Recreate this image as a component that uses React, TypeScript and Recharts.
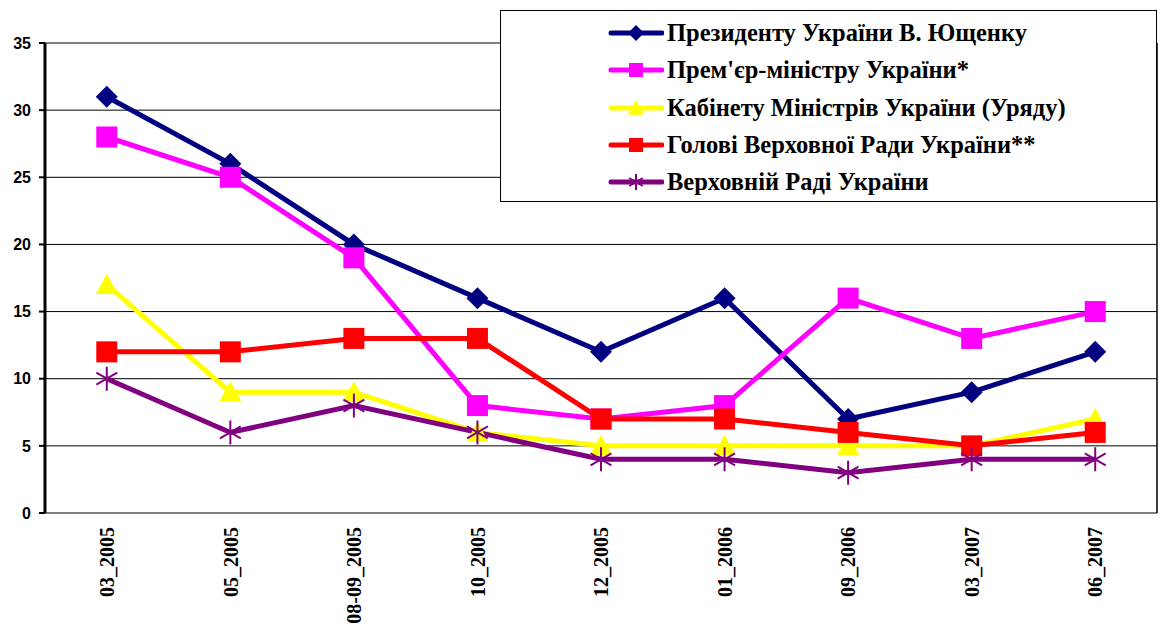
import React from 'react';
import { LineChart, Line, XAxis, YAxis, CartesianGrid, ReferenceLine } from 'recharts';

const categories = ['03_2005', '05_2005', '08-09_2005', '10_2005', '12_2005', '01_2006', '09_2006', '03_2007', '06_2007'];
const president = [31, 26, 20, 16, 12, 16, 7, 9, 12];
const premier = [28, 25, 19, 8, 7, 8, 16, 13, 15];
const cabinet = [17, 9, 9, 6, 5, 5, 5, 5, 7];
const speaker = [12, 12, 13, 13, 7, 7, 6, 5, 6];
const rada = [10, 6, 8, 6, 4, 4, 3, 4, 4];
const yTicks = [0, 5, 10, 15, 20, 25, 30, 35];
const seriesNames = [
  'Президенту України В. Ющенку',
  "Прем'єр-міністру України*",
  'Кабінету Міністрів України (Уряду)',
  'Голові Верховної Ради України**',
  'Верховній Раді України',
];

const seriesDefs = [
  { key: 'president', name: seriesNames[0], color: '#000080', shape: 'diamond' },
  { key: 'premier', name: seriesNames[1], color: '#FF00FF', shape: 'square' },
  { key: 'cabinet', name: seriesNames[2], color: '#FFFF00', shape: 'triangle' },
  { key: 'speaker', name: seriesNames[3], color: '#FF0000', shape: 'square' },
  { key: 'rada', name: seriesNames[4], color: '#800080', shape: 'star' },
];

const data = categories.map((c, i) => ({
  idx: i,
  cat: c,
  president: president[i],
  premier: premier[i],
  cabinet: cabinet[i],
  speaker: speaker[i],
  rada: rada[i],
}));

const labelTicks = categories.map((_, i) => i);
const boundaryTicks = [...categories.map((_, i) => i - 0.5), categories.length - 0.5];

const SERIF = "'Liberation Serif', 'Times New Roman', Times, serif";
const SANS = "'Liberation Sans', Arial, Helvetica, sans-serif";

function Marker({ shape, color, cx, cy, s }: any) {
  if (cx == null || cy == null) return <g />;
  switch (shape) {
    case 'diamond':
      return <polygon points={`${cx},${cy - s} ${cx + s},${cy} ${cx},${cy + s} ${cx - s},${cy}`} fill={color} />;
    case 'square':
      return <rect x={cx - s} y={cy - s} width={2 * s} height={2 * s} fill={color} />;
    case 'triangle':
      return <polygon points={`${cx},${cy - s} ${cx + s},${cy + s * 0.85} ${cx - s},${cy + s * 0.85}`} fill={color} />;
    case 'star': {
      const d = s * 0.87;
      const h = s * 0.5;
      return (
        <g stroke={color} strokeWidth={2} fill="none">
          <line x1={cx} y1={cy - s} x2={cx} y2={cy + s} />
          <line x1={cx - d} y1={cy - h} x2={cx + d} y2={cy + h} />
          <line x1={cx - d} y1={cy + h} x2={cx + d} y2={cy - h} />
        </g>
      );
    }
    default:
      return <g />;
  }
}

const markerSize: Record<string, number> = { diamond: 11, square: 10.5, triangle: 11, star: 12 };
const legendMarkerSize: Record<string, number> = { diamond: 8, square: 7, triangle: 8, star: 8 };

const XLabelTick = (props: any) => {
  const { x, y, payload } = props;
  const label = categories[Math.round(payload.value)];
  return (
    <text
      transform={`translate(${x},${y + 6}) rotate(-90)`}
      textAnchor="end"
      dy="0.36em"
      fontFamily={SERIF}
      fontWeight="bold"
      fontSize={20}
      fill="#000"
    >
      {label}
    </text>
  );
};

const EmptyTick = () => <g />;

function LegendBox() {
  return (
    <div
      style={{
        position: 'absolute',
        left: 500,
        top: 10,
        width: 655,
        height: 190,
        border: '1.5px solid #000',
        background: '#fff',
        boxSizing: 'content-box',
      }}
    >
      {seriesDefs.map((s, i) => (
        <div
          key={s.key}
          style={{
            position: 'absolute',
            left: 107,
            top: 22 + i * 37.3 - 15,
            height: 30,
            display: 'flex',
            alignItems: 'center',
            whiteSpace: 'nowrap',
          }}
        >
          <svg width={56} height={30} style={{ display: 'block' }}>
            <line x1={3} y1={15} x2={54} y2={15} stroke={s.color} strokeWidth={5} strokeLinecap="round" />
            <Marker shape={s.shape} color={s.color} cx={28} cy={15} s={legendMarkerSize[s.shape]} />
          </svg>
          <span
            style={{
              marginLeft: 3,
              fontFamily: SERIF,
              fontWeight: 'bold',
              fontSize: 24.5,
              lineHeight: '30px',
              color: '#000',
            }}
          >
            {s.name}
          </span>
        </div>
      ))}
    </div>
  );
}

export default function App() {
  return (
    <div style={{ position: 'relative', width: 1162, height: 624, background: '#fff' }}>
      <style>{'body{margin:0;background:#fff;}'}</style>
      <LineChart width={1162} height={624} data={data} margin={{ top: 43, right: 5, bottom: 0, left: 0 }}>
        <CartesianGrid horizontal vertical={false} stroke="#000" strokeWidth={1} yAxisId="y" xAxisId="main" />
        <XAxis
          xAxisId="main"
          type="number"
          dataKey="idx"
          domain={[-0.5, categories.length - 0.5]}
          ticks={boundaryTicks}
          interval={0}
          tick={EmptyTick}
          tickLine={{ stroke: '#000', strokeWidth: 2 }}
          tickSize={6}
          axisLine={{ stroke: '#000', strokeWidth: 3 }}
          height={0}
        />
        <XAxis
          xAxisId="lab"
          type="number"
          dataKey="idx"
          domain={[-0.5, categories.length - 0.5]}
          ticks={labelTicks}
          interval={0}
          tick={XLabelTick}
          tickLine={false}
          axisLine={false}
          height={111}
        />
        <YAxis
          yAxisId="y"
          type="number"
          domain={[0, 35]}
          ticks={yTicks}
          interval={0}
          width={45}
          tickSize={6}
          tickMargin={8}
          tickLine={{ stroke: '#000', strokeWidth: 2 }}
          axisLine={{ stroke: '#000', strokeWidth: 3 }}
          tick={{ fill: '#000', fontSize: 16, fontWeight: 'bold', fontFamily: SANS }}
        />
        <ReferenceLine xAxisId="main" yAxisId="y" x={categories.length - 0.5} stroke="#000" strokeWidth={1.5} />
        {seriesDefs.map((s) => (
          <Line
            key={s.key}
            xAxisId="main"
            yAxisId="y"
            type="linear"
            dataKey={s.key}
            name={s.name}
            stroke={s.color}
            strokeWidth={5}
            isAnimationActive={false}
            dot={(p: any) => (
              <Marker key={`${s.key}-${p.index}`} shape={s.shape} color={s.color} cx={p.cx} cy={p.cy} s={markerSize[s.shape]} />
            )}
            activeDot={false}
          />
        ))}
      </LineChart>
      <LegendBox />
    </div>
  );
}
